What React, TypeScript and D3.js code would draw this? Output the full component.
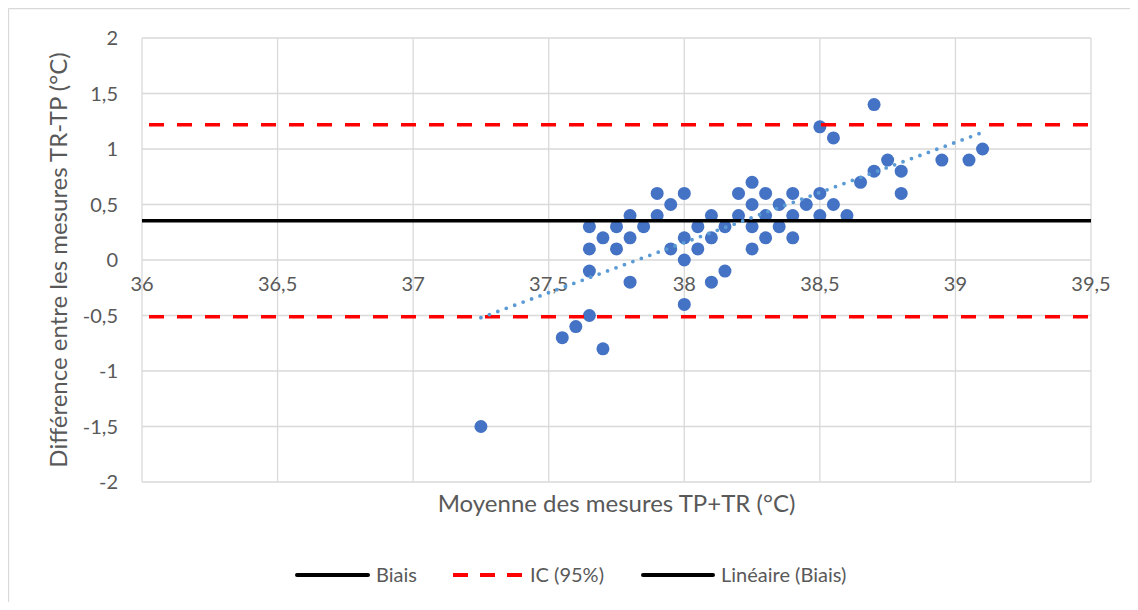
import React from "react";
import * as d3 from "d3";

// ---- Data ----
const meanValues: number[] = [
  37.25,
  37.55, 37.6, 37.65, 37.7,
  37.65, 37.65, 37.65,
  37.7,
  37.75, 37.75,
  37.8, 37.8, 37.8,
  37.85,
  37.9, 37.9,
  37.95, 37.95,
  38.0, 38.0, 38.0, 38.0,
  38.05, 38.05,
  38.1, 38.1, 38.1,
  38.15, 38.15,
  38.2, 38.2,
  38.25, 38.25, 38.25, 38.25,
  38.3, 38.3, 38.3,
  38.35, 38.35,
  38.4, 38.4, 38.4,
  38.45,
  38.5, 38.5, 38.5,
  38.55, 38.55,
  38.6,
  38.65,
  38.7, 38.7,
  38.75,
  38.8, 38.8,
  38.95,
  39.05,
  39.1,
];
const diffValues: number[] = [
  -1.5,
  -0.7, -0.6, -0.5, -0.8,
  -0.1, 0.1, 0.3,
  0.2,
  0.1, 0.3,
  -0.2, 0.2, 0.4,
  0.3,
  0.4, 0.6,
  0.1, 0.5,
  -0.4, 0.0, 0.2, 0.6,
  0.1, 0.3,
  -0.2, 0.2, 0.4,
  -0.1, 0.3,
  0.4, 0.6,
  0.1, 0.3, 0.5, 0.7,
  0.2, 0.4, 0.6,
  0.3, 0.5,
  0.2, 0.4, 0.6,
  0.5,
  0.4, 0.6, 1.2,
  0.5, 1.1,
  0.4,
  0.7,
  0.8, 1.4,
  0.9,
  0.6, 0.8,
  0.9,
  0.9,
  1.0,
];
const biais = 0.354;
const icHigh = 1.219;
const icLow = -0.511;
const trendX: number[] = [37.25, 39.1];
const trendY: number[] = [-0.52, 1.15];
const xTicks: number[] = [36, 36.5, 37, 37.5, 38, 38.5, 39, 39.5];
const yTicks: number[] = [2, 1.5, 1, 0.5, 0, -0.5, -1, -1.5, -2];
const xDomain: [number, number] = [36, 39.5];
const yDomain: [number, number] = [-2, 2];
const xTitle = "Moyenne des mesures TP+TR (°C)";
const yTitle = "Différence entre les mesures TR-TP (°C)";
const legendLabels = ["Biais", "IC (95%)", "Linéaire (Biais)"];

const W = 1122;
const H = 594;
const FONT = "Lato, 'Open Sans', sans-serif";
const TXT = "#595959";
const GRID = "#d9d9d9";

const fmt = (v: number) => String(v).replace(".", ",");

export default function App() {
  const x = d3.scaleLinear().domain(xDomain).range([134, 1083]);
  const y = d3.scaleLinear().domain(yDomain).range([474, 30]);
  const line = d3
    .line<[number, number]>()
    .x((d) => x(d[0]))
    .y((d) => y(d[1]));
  const hLine = (v: number) =>
    line([
      [xDomain[0], v],
      [xDomain[1], v],
    ]) || "";
  const trend = line(trendX.map((t, i) => [t, trendY[i]] as [number, number])) || "";

  return (
    <svg width={W} height={H} style={{ display: "block", background: "#fff" }} fontFamily={FONT}>
      <rect x={0} y={0} width={W} height={H} fill="#fff" />
      <line x1={0.5} y1={0.5} x2={W} y2={0.5} stroke={GRID} strokeWidth={1.3} />
      <line x1={0.5} y1={0.5} x2={0.5} y2={H} stroke={GRID} strokeWidth={1.3} />

      {/* gridlines */}
      {yTicks.map((t) => (
        <line key={"gy" + t} x1={x(xDomain[0])} x2={x(xDomain[1])} y1={y(t)} y2={y(t)} stroke={GRID} strokeWidth={1.3} />
      ))}
      {xTicks.map((t) => (
        <line key={"gx" + t} x1={x(t)} x2={x(t)} y1={y(yDomain[0])} y2={y(yDomain[1])} stroke={GRID} strokeWidth={1.3} />
      ))}

      {/* tick labels */}
      {yTicks.map((t) => (
        <text key={"ty" + t} x={110} y={y(t)} dy="0.36em" textAnchor="end" fontSize={20} fill={TXT}>
          {fmt(t)}
        </text>
      ))}
      {xTicks.map((t) => (
        <text key={"tx" + t} x={x(t)} y={y(0) + 31} textAnchor="middle" fontSize={20} fill={TXT}>
          {fmt(t)}
        </text>
      ))}

      {/* points */}
      {meanValues.map((m, i) => (
        <circle key={"p" + i} cx={x(m)} cy={y(diffValues[i])} r={6.5} fill="#4472C4" />
      ))}

      {/* lines */}
      <path d={hLine(biais)} stroke="#000" strokeWidth={3.6} fill="none" />
      <path d={hLine(icHigh)} stroke="#FF0000" strokeWidth={3.6} fill="none" strokeDasharray="15 13" strokeDashoffset={21} />
      <path d={hLine(icLow)} stroke="#FF0000" strokeWidth={3.6} fill="none" strokeDasharray="15 13" strokeDashoffset={21} />
      <path d={trend} stroke="#5B9BD5" strokeWidth={3.8} fill="none" strokeLinecap="round" strokeDasharray="0 9" />

      {/* axis titles */}
      <text x={(x(xDomain[0]) + x(xDomain[1])) / 2} y={504} textAnchor="middle" fontSize={24} fill={TXT}>
        {xTitle}
      </text>
      <text
        transform={`translate(59, ${(y(yDomain[0]) + y(yDomain[1])) / 2}) rotate(-90)`}
        textAnchor="middle"
        fontSize={24}
        fill={TXT}
      >
        {yTitle}
      </text>

      {/* legend */}
      <g>
        <line x1={289} x2={360} y1={567} y2={567} stroke="#000" strokeWidth={4} strokeLinecap="round" />
        <text x={368} y={574} fontSize={20} fill={TXT}>{legendLabels[0]}</text>
        <line x1={445} x2={514} y1={567} y2={567} stroke="#FF0000" strokeWidth={4} strokeDasharray="15 12" strokeLinecap="butt" />
        <text x={522} y={574} fontSize={20} fill={TXT}>{legendLabels[1]}</text>
        <line x1={635} x2={705} y1={567} y2={567} stroke="#000" strokeWidth={4} strokeLinecap="round" />
        <text x={713} y={574} fontSize={20} fill={TXT}>{legendLabels[2]}</text>
      </g>
    </svg>
  );
}
